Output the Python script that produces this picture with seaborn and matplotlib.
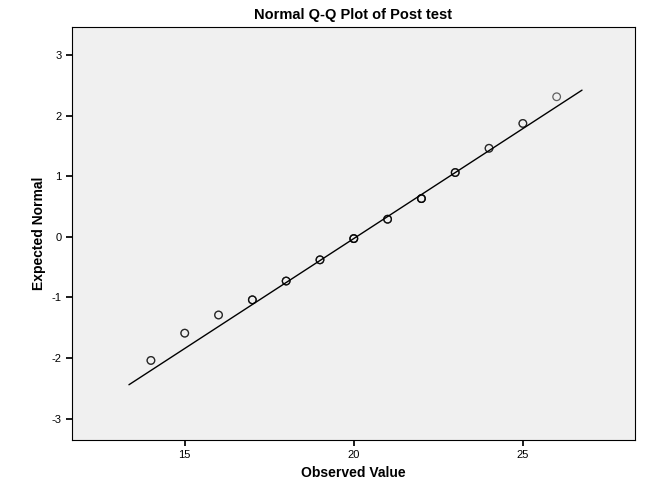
import matplotlib
matplotlib.use("Agg")
import matplotlib.pyplot as plt
import seaborn as sns
import numpy as np
import pandas as pd

observed = [14, 15, 16, 17, 18, 19, 20, 21, 22, 23, 24, 25, 26]
expected = [-2.04, -1.59, -1.29, -1.04, -0.73, -0.38, -0.03, 0.29, 0.63, 1.06, 1.46, 1.87, 2.31]
# how many cases share each value (darker rings for repeats)
counts = [2, 2, 2, 3, 3, 3, 4, 3, 4, 3, 2, 2, 1]

# reference line: normal with sample mean / sd
line_x = [13.35, 26.75]
mean, sd = 20.08, 2.757

sns.set_theme(style="white")
plt.rcParams["font.family"] = ["Liberation Sans", "DejaVu Sans"]
plt.rcParams["axes.unicode_minus"] = False
plt.rcParams["text.color"] = "black"
plt.rcParams["axes.labelcolor"] = "black"

fig, ax = plt.subplots(figsize=(6.71, 4.92), dpi=100)
fig.subplots_adjust(left=0.107, right=0.946, top=0.945, bottom=0.106)
ax.set_facecolor("#f0f0f0")

rows = []
for x, y, c in zip(observed, expected, counts):
    rows += [(x, y)] * c
df = pd.DataFrame(rows, columns=["obs", "exp"])
sns.scatterplot(data=df, x="obs", y="exp", ax=ax, s=30, facecolor="none",
                edgecolor="black", linewidth=0.9, alpha=0.6)

lx = np.array(line_x)
sns.lineplot(x=lx, y=(lx - mean) / sd, ax=ax, color="black", linewidth=1)

ax.set_xlim(11.66, 28.31)
ax.set_ylim(-3.35, 3.46)
ax.set_xticks([15, 20, 25])
ax.set_yticks([-3, -2, -1, 0, 1, 2, 3])
ax.tick_params(axis="both", labelsize=8, length=4, direction="out", colors="black",
               bottom=True, left=True)
for sp in ax.spines.values():
    sp.set_color("black")
    sp.set_linewidth(0.8)
ax.set_xlabel("Observed Value", fontsize=10, fontweight="bold", color="black")
ax.set_ylabel("Expected Normal", fontsize=10, fontweight="bold", color="black")
ax.set_title("Normal Q-Q Plot of Post test", fontsize=10.5, fontweight="bold",
             pad=6, color="black")

fig.savefig("out.png", dpi=100, facecolor="white")
